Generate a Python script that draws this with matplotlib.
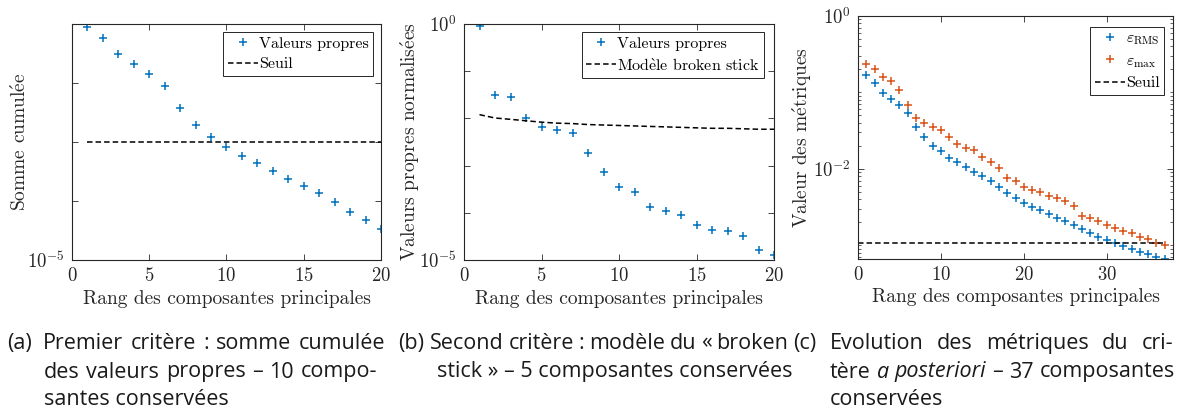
#!/usr/bin/env python3
"""Critères de troncature de l'ACP : trois sous-figures avec leurs légendes."""

import matplotlib

matplotlib.use("Agg")
import matplotlib.pyplot as plt
from matplotlib.ticker import FixedLocator, LogLocator, NullFormatter, NullLocator

BLUE = "#0072BD"
ORANGE = "#D95319"
AXC = "#262626"

# (a) somme cumulée des valeurs propres restantes
rang_a = list(range(1, 21))
somme_cumulee = [
    0.0902, 0.0586, 0.0314, 0.0213, 0.0144, 0.00879, 0.00382, 0.00194, 0.00120, 0.000834,
    0.000571, 0.000435, 0.000327, 0.000239, 0.000182, 0.000137, 9.75e-05, 6.43e-05, 4.76e-05, 3.40e-05,
]
seuil_a = 1e-3

# (b) valeurs propres normalisées et modèle broken stick
rang_b = list(range(1, 21))
vp_normalisees = [
    0.923, 0.0318, 0.0279, 0.0104, 0.00668, 0.00558, 0.00499, 0.00185, 0.000731, 0.000352,
    0.000272, 0.000133, 0.000109, 9.12e-05, 5.42e-05, 4.40e-05, 4.05e-05, 3.28e-05, 1.66e-05, 1.28e-05,
]
broken_stick = [
    0.0120, 0.0102, 0.00955, 0.00891, 0.00832, 0.00794, 0.00776, 0.00741, 0.00724, 0.00708,
    0.00692, 0.00676, 0.00661, 0.00646, 0.00631, 0.00617, 0.00617, 0.00603, 0.00589, 0.00589,
]

# (c) métriques a posteriori
rang_c = list(range(1, 38))
eps_rms = [
    0.1675, 0.1346, 0.0975, 0.0822, 0.0679, 0.0535, 0.0354, 0.0257, 0.0200, 0.0169,
    0.0139, 0.0121, 0.0106, 0.00914, 0.00794, 0.00697, 0.00582, 0.00481, 0.00409, 0.00356,
    0.00318, 0.00285, 0.00258, 0.00226, 0.00205, 0.00184, 0.00161, 0.00143, 0.00130, 0.00118,
    0.00107, 0.000966, 0.000899, 0.000822, 0.000767, 0.000700, 0.000667,
]
eps_max = [
    0.238, 0.203, 0.161, 0.140, 0.1067, 0.0679, 0.0465, 0.0392, 0.0354, 0.0324,
    0.0257, 0.0210, 0.0186, 0.0174, 0.0142, 0.0121, 0.0104, 0.00755, 0.00697, 0.00570,
    0.00531, 0.00491, 0.00435, 0.00409, 0.00374, 0.00328, 0.00240, 0.00226, 0.00207, 0.00185,
    0.00167, 0.00155, 0.00143, 0.00128, 0.00121, 0.00108, 0.00102,
]
seuil_c = 1.057e-3

XLABEL = "Rang des composantes principales"

W, H = 1180, 412

plt.rcParams["font.family"] = "cmr10"
plt.rcParams["mathtext.fontset"] = "cm"
plt.rcParams["axes.formatter.use_mathtext"] = True
plt.rcParams["axes.unicode_minus"] = False


def style_axes(ax):
    for sp in ax.spines.values():
        sp.set_color(AXC)
        sp.set_linewidth(0.8)
    ax.tick_params(which="both", direction="in", top=True, right=True, colors=AXC,
                   labelsize=13.5, labelcolor=AXC)
    ax.tick_params(which="major", length=4, width=0.6, pad=5)
    ax.tick_params(which="minor", length=2.2, width=0.5)


def add_legend(ax, anchor):
    leg = ax.legend(loc="upper right", bbox_to_anchor=anchor, borderaxespad=0,
                    fancybox=False, edgecolor=AXC, framealpha=1, fontsize=11.5,
                    numpoints=1, handlelength=1.9, handletextpad=0.05,
                    labelspacing=0.4, borderpad=0.28)
    leg.get_frame().set_linewidth(0.7)
    return leg


def px_axes(fig, left, right, top, bottom):
    return fig.add_axes([left / W, 1 - bottom / H, (right - left) / W, (bottom - top) / H])


def draw_text_line(fig, renderer, words, x0, y, x1=None, size=15.5):
    """Pose une ligne mot par mot ; si x1 est donné, la ligne est justifiée."""
    arts = []
    for w in words:
        txt, style = (w, "normal") if isinstance(w, str) else w
        t = fig.text(0, 1 - y / H, txt, fontsize=size, family="Open Sans", style=style,
                     va="baseline", ha="left", color="#1a1a1a")
        arts.append(t)
    widths = [t.get_window_extent(renderer).width for t in arts]
    probe_a = fig.text(0, 0, "n n", fontsize=size, family="Open Sans")
    probe_b = fig.text(0, 0, "nn", fontsize=size, family="Open Sans")
    space = probe_a.get_window_extent(renderer).width - probe_b.get_window_extent(renderer).width
    probe_a.remove()
    probe_b.remove()
    if x1 is not None and len(arts) > 1:
        gap = (x1 - x0 - sum(widths)) / (len(arts) - 1)
    else:
        gap = space
    x = x0
    for t, wd in zip(arts, widths):
        t.set_x(x / W)
        x += wd + gap


def main():
    fig = plt.figure(figsize=(W / 100, H / 100), dpi=100)

    dash = (0, (3.6, 2.0))

    # (a)
    ax = px_axes(fig, 72, 381, 24, 260)
    ax.plot(rang_a, somme_cumulee, "+", color=BLUE, ms=5.5, mew=1.1, label="Valeurs propres")
    ax.plot([rang_a[0], rang_a[-1]], [seuil_a, seuil_a], color="k", lw=1.1, ls=dash, label="Seuil")
    ax.set_yscale("log")
    ax.set_xlim(0, 20)
    ax.set_ylim(1e-5, 1e-1)
    ax.yaxis.set_major_locator(FixedLocator([1e-5, 1e-4, 1e-3, 1e-2, 1e-1]))
    ax.set_yticklabels([r"$10^{-5}$", "", "", "", ""])
    ax.yaxis.set_minor_locator(NullLocator())
    ax.set_xticks([0, 5, 10, 15, 20])
    style_axes(ax)
    ax.set_xlabel(XLABEL, fontsize=14, color=AXC)
    ax.set_ylabel(r"Somme cumul$\acute{\mathrm{e}}$e", fontsize=14, color=AXC)
    ax.xaxis.set_label_coords(0.5, -0.125)
    ax.yaxis.set_label_coords(-0.135, 0.5)
    add_legend(ax, (0.974, 0.966))

    # (b)
    ax = px_axes(fig, 464, 774, 24, 260)
    ax.plot(rang_b, vp_normalisees, "+", color=BLUE, ms=5.5, mew=1.1, label="Valeurs propres")
    ax.plot(rang_b, broken_stick, color="k", lw=1.1, ls=dash, label=r"Mod$\grave{\mathrm{e}}$le broken stick")
    ax.set_yscale("log")
    ax.set_xlim(0, 20)
    ax.set_ylim(1e-5, 1)
    ax.yaxis.set_major_locator(FixedLocator([1e-5, 1e-4, 1e-3, 1e-2, 1e-1, 1]))
    ax.set_yticklabels([r"$10^{-5}$", "", "", "", "", r"$10^{0}$"])
    ax.yaxis.set_minor_locator(NullLocator())
    ax.set_xticks([0, 5, 10, 15, 20])
    style_axes(ax)
    ax.set_xlabel(XLABEL, fontsize=14, color=AXC)
    ax.set_ylabel(r"Valeurs propres normalis$\acute{\mathrm{e}}$es", fontsize=14, color=AXC)
    ax.xaxis.set_label_coords(0.5, -0.125)
    ax.yaxis.set_label_coords(-0.135, 0.5)
    add_legend(ax, (0.968, 0.966))

    # (c)
    ax = px_axes(fig, 858, 1173, 16, 259)
    ax.plot(rang_c, eps_rms, "+", color=BLUE, ms=5.5, mew=1.1, label=r"$\varepsilon_{\mathrm{RMS}}$")
    ax.plot(rang_c, eps_max, "+", color=ORANGE, ms=5.5, mew=1.1, label=r"$\varepsilon_{\max}$")
    ax.plot([0, rang_c[-1]], [seuil_c, seuil_c], color="k", lw=1.1, ls=dash, label="Seuil")
    ax.set_yscale("log")
    ax.set_xlim(0, 38)
    ax.set_ylim(6.6e-4, 1)
    ax.yaxis.set_major_locator(FixedLocator([1e-2, 1]))
    ax.set_yticklabels([r"$10^{-2}$", r"$10^{0}$"])
    ax.yaxis.set_minor_locator(LogLocator(base=10, subs=range(1, 10), numticks=20))
    ax.yaxis.set_minor_formatter(NullFormatter())
    ax.set_xticks([0, 10, 20, 30])
    style_axes(ax)
    ax.set_xlabel(XLABEL, fontsize=14, color=AXC)
    ax.set_ylabel(r"Valeur des m$\acute{\mathrm{e}}$triques", fontsize=14, color=AXC)
    ax.xaxis.set_label_coords(0.5, -0.12)
    ax.yaxis.set_label_coords(-0.14, 0.5)
    add_legend(ax, (0.971, 0.955))

    # légendes des sous-figures
    r = fig.canvas.get_renderer()
    draw_text_line(fig, r, ["(a)"], 7, 348.7)
    draw_text_line(fig, r, ["Premier", "critère", ":", "somme", "cumulée"], 43, 348.7, 385)
    draw_text_line(fig, r, ["des", "valeurs", "propres", "–", "10", "compo-"], 44, 377.5, 377)
    draw_text_line(fig, r, ["santes conservées"], 44, 405)

    draw_text_line(fig, r, ["(b)"], 398, 348.7)
    draw_text_line(fig, r, ["Second", "critère", ":", "modèle", "du", "«", "broken"], 430, 348.7, 788)
    draw_text_line(fig, r, ["stick » – 5 composantes conservées"], 437, 377.5)

    draw_text_line(fig, r, ["(c)"], 793, 348.7)
    draw_text_line(fig, r, ["Evolution", "des", "métriques", "du", "cri-"], 830, 348.7, 1173)
    draw_text_line(fig, r, ["tère", ("a", "italic"), ("posteriori", "italic"), "–", "37", "composantes"],
                   830, 377.5, 1175)
    draw_text_line(fig, r, ["conservées"], 830, 405)

    fig.savefig("out.png", dpi=100)


if __name__ == "__main__":
    main()
